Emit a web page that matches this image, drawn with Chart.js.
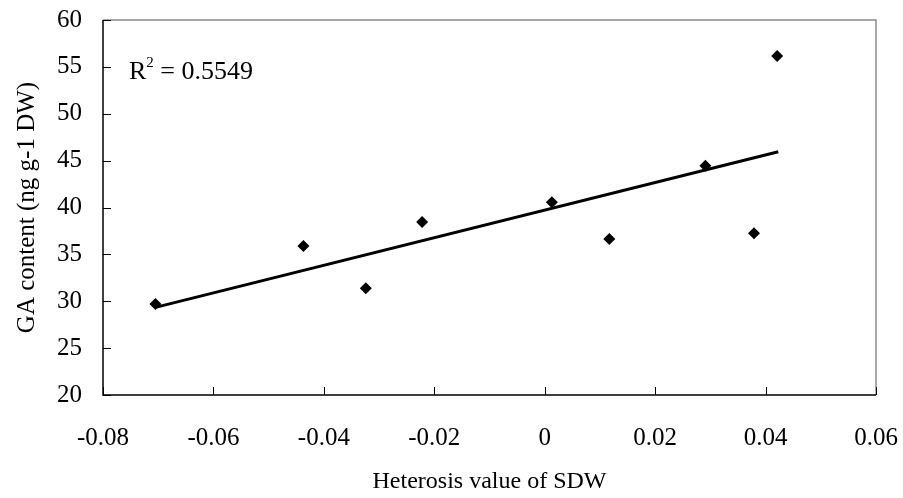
<!DOCTYPE html>
<html>
<head>
<meta charset="utf-8">
<script src="https://cdn.jsdelivr.net/npm/chart.js@4/dist/chart.umd.min.js"></script>
<style>
  html, body { margin: 0; padding: 0; background: #fff; }
  #wrap { width: 903px; height: 498px; }
</style>
</head>
<body>
<div id="wrap"><canvas id="scatter"></canvas></div>
<script>
// values
const heterosisSDW = [-0.0705, -0.0437, -0.0324, -0.0222, 0.0013, 0.0117, 0.0291, 0.0379, 0.0421];
const gaContent = [29.7, 35.9, 31.4, 38.45, 40.55, 36.65, 44.45, 37.25, 56.15];
const trendX = [-0.0705, 0.0423];
const trendY = [29.35, 45.95];
const r2Text = '0.5549';

const font = 'Liberation Serif, Times New Roman, serif';

const points = heterosisSDW.map((x, i) => ({ x: x, y: gaContent[i] }));
const trend = trendX.map((x, i) => ({ x: x, y: trendY[i] }));

// plot frame, inward ticks and the R^2 note
const framePlugin = {
    id: 'frame',
    afterDraw(chart) {
        const c = chart.ctx;
        const a = chart.chartArea;
        const xs = chart.scales.x;
        const ys = chart.scales.y;
        c.save();
        c.strokeStyle = '#8c8c8c';
        c.lineWidth = 1.5;
        c.beginPath();
        c.moveTo(a.left, a.top);
        c.lineTo(a.right, a.top);
        c.lineTo(a.right, a.bottom);
        c.stroke();

        c.strokeStyle = '#000';
        c.lineWidth = 1.5;
        c.beginPath();
        c.moveTo(a.left, a.top);
        c.lineTo(a.left, a.bottom);
        c.lineTo(a.right, a.bottom);
        c.stroke();

        c.lineWidth = 1;
        c.beginPath();
        xs.ticks.forEach(t => {
            const px = Math.round(xs.getPixelForValue(t.value)) + 0.5;
            c.moveTo(px, a.bottom);
            c.lineTo(px, a.bottom - 8);
        });
        ys.ticks.forEach(t => {
            const py = Math.round(ys.getPixelForValue(t.value)) + 0.5;
            c.moveTo(a.left, py);
            c.lineTo(a.left + 8, py);
        });
        c.stroke();

        // R^2 = ...
        c.fillStyle = '#000';
        c.textBaseline = 'alphabetic';
        c.textAlign = 'left';
        const bx = a.left + 26;
        const by = a.top + 59;
        c.font = '26px ' + font;
        c.fillText('R', bx, by);
        const rw = c.measureText('R').width;
        c.font = '15px ' + font;
        c.fillText('2', bx + rw, by - 12);
        const sw = c.measureText('2').width;
        c.font = '26px ' + font;
        c.fillText(' = ' + r2Text, bx + rw + sw, by);
        c.restore();
    }
};

new Chart(document.getElementById('scatter'), {
    type: 'scatter',
    data: {
        datasets: [{
            data: points,
            pointStyle: 'rectRot',
            pointRadius: 6,
            pointBackgroundColor: '#000',
            pointBorderColor: '#000',
            pointBorderWidth: 0,
            showLine: false
        }, {
            data: trend,
            showLine: true,
            borderColor: '#000',
            borderWidth: 3,
            pointRadius: 0
        }]
    },
    options: {
        responsive: true,
        maintainAspectRatio: false,
        animation: false,
        layout: { padding: { top: 20, right: 27, left: 0, bottom: 0 } },
        plugins: {
            legend: { display: false },
            tooltip: { enabled: false }
        },
        scales: {
            x: {
                type: 'linear',
                min: -0.08,
                max: 0.06,
                afterFit: s => {
                    s.height = 103;
                    s.paddingLeft = 0;
                    s.paddingRight = 0;
                },
                grid: { display: false, drawTicks: false },
                border: { display: false },
                ticks: {
                    stepSize: 0.02,
                    padding: 28,
                    color: '#000',
                    font: { family: font, size: 25 },
                    maxRotation: 0,
                    callback: v => String(Number(v.toFixed(2)))
                },
                title: {
                    display: true,
                    text: 'Heterosis value of SDW',
                    color: '#000',
                    font: { family: font, size: 24 },
                    padding: { top: 0, bottom: 2 }
                }
            },
            y: {
                min: 20,
                max: 60,
                afterFit: s => {
                    s.width = 103;
                    s.paddingTop = 0;
                    s.paddingBottom = 0;
                },
                grid: { display: false, drawTicks: false },
                border: { display: false },
                ticks: {
                    stepSize: 5,
                    padding: 21,
                    color: '#000',
                    font: { family: font, size: 25 }
                },
                title: {
                    display: true,
                    text: 'GA content (ng g-1 DW)',
                    color: '#000',
                    font: { family: font, size: 25 },
                    padding: { top: 12, bottom: 0 }
                }
            }
        }
    },
    plugins: [framePlugin]
});
</script>
</body>
</html>
